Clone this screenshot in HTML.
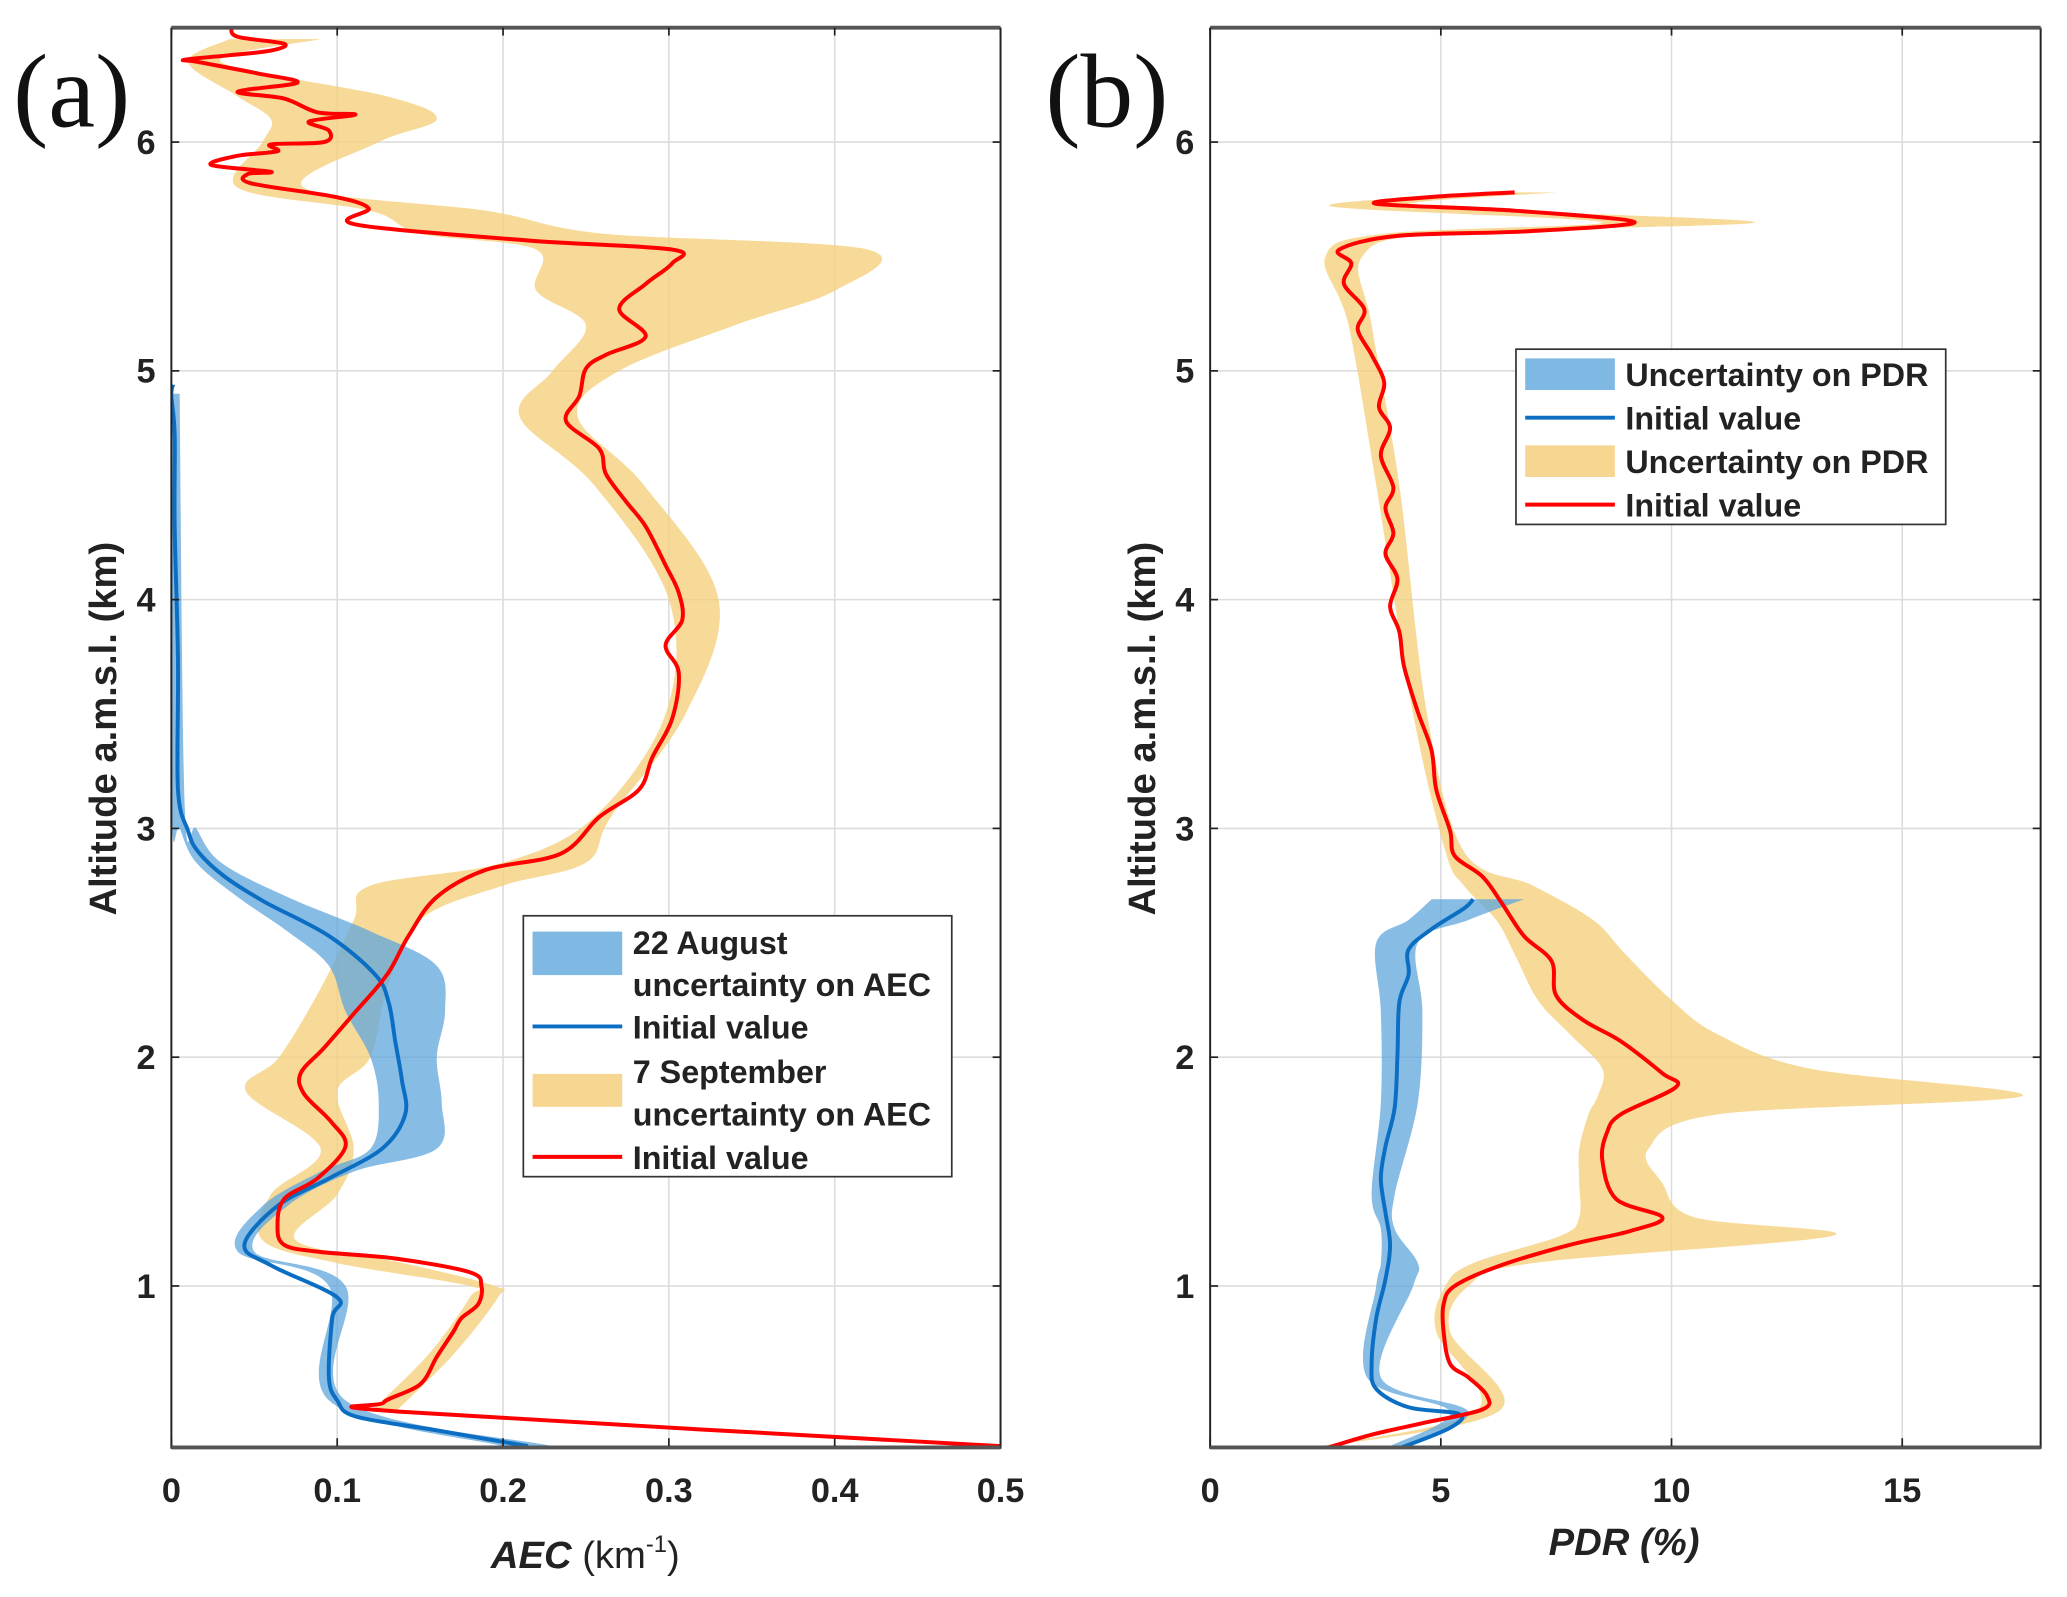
<!DOCTYPE html>
<html><head><meta charset="utf-8"><style>
html,body{margin:0;padding:0;background:#fff;}
svg{display:block;}
text{font-family:"Liberation Sans",Arial,sans-serif;font-weight:bold;fill:#222;}
</style></head><body>
<svg id="chart" width="2067" height="1597" viewBox="0 0 1568 1212" preserveAspectRatio="none" xmlns="http://www.w3.org/2000/svg">
<defs>
<clipPath id="clipA"><rect x="130" y="21" width="629" height="1077"/></clipPath>
<clipPath id="clipB"><rect x="918" y="21" width="630" height="1077"/></clipPath>
</defs>
<g id="panelA"></g>
<g id="panelB"></g>
</svg>
<script>
// ---- Panel (a) data ----
const aRedAlt=[0.3,0.45,0.49,0.57,0.69,0.8,0.86,0.92,1.0,1.06,1.12,1.15,1.18,1.26,1.38,1.47,1.61,1.72,1.84,1.93,2.04,2.19,2.36,2.53,2.7,2.82,2.89,3.05,3.17,3.31,3.48,3.68,3.8,3.91,4.03,4.15,4.32,4.43,4.55,4.66,4.78,4.89,5.01,5.07,5.15,5.27,5.38,5.47,5.53,5.57,5.64,5.71,5.76,5.82,5.86,5.87,5.9,5.94,5.96,5.99,6.0,6.05,6.09,6.12,6.13,6.19,6.22,6.26,6.3,6.35,6.36,6.38,6.4,6.43,6.46,6.5];
const aRedVal=[0.5,0.14,0.128,0.15,0.16,0.17,0.175,0.185,0.187,0.18,0.135,0.088,0.068,0.064,0.068,0.088,0.105,0.096,0.08,0.078,0.092,0.11,0.13,0.143,0.16,0.19,0.235,0.258,0.282,0.29,0.302,0.306,0.298,0.308,0.306,0.298,0.286,0.274,0.262,0.258,0.238,0.246,0.25,0.262,0.286,0.27,0.286,0.302,0.302,0.215,0.111,0.119,0.099,0.048,0.046,0.06,0.024,0.04,0.064,0.06,0.092,0.095,0.083,0.111,0.088,0.068,0.04,0.076,0.052,0.016,0.008,0.036,0.06,0.068,0.04,0.036];
const aRedBandAlt=[0.45,0.7,0.95,1.0,1.1,1.2,1.4,1.6,1.85,2.0,2.3,2.6,2.75,2.85,3.05,3.5,4.0,4.5,4.8,5.0,5.2,5.35,5.53,5.6,5.7,5.8,6.0,6.1,6.2,6.35,6.45];
const aRedBandLo=[0.12,0.155,0.18,0.18,0.1,0.055,0.06,0.09,0.045,0.065,0.09,0.11,0.12,0.2,0.255,0.298,0.3,0.255,0.21,0.23,0.25,0.22,0.22,0.15,0.12,0.04,0.055,0.06,0.04,0.01,0.035];
const aRedBandHi=[0.135,0.17,0.197,0.195,0.14,0.075,0.1,0.11,0.1,0.12,0.13,0.15,0.2,0.25,0.265,0.31,0.33,0.285,0.245,0.27,0.34,0.4,0.42,0.26,0.19,0.08,0.125,0.16,0.13,0.03,0.09];
const aBlueAlt=[0.3,0.37,0.43,0.5,0.6,0.86,0.95,1.09,1.18,1.35,1.47,1.6,1.75,1.9,2.07,2.24,2.36,2.53,2.68,2.79,2.9,2.99,3.17,3.74,4.32,4.72,4.89,4.94];
const aBlueVal=[0.215,0.159,0.111,0.1,0.095,0.097,0.1,0.06,0.044,0.064,0.095,0.127,0.141,0.139,0.135,0.131,0.123,0.095,0.056,0.032,0.016,0.01,0.004,0.004,0.002,0.002,0.0,0.001];
const aBlueBandAlt=[0.3,0.5,1.0,1.15,1.35,1.5,1.6,1.8,2.0,2.2,2.4,2.55,2.7,2.85,3.0,3.1,4.9];
const aBlueBandLo=[0.2,0.095,0.095,0.04,0.055,0.09,0.12,0.125,0.12,0.105,0.095,0.07,0.04,0.015,0.005,0.0,-0.002];
const aBlueBandHi=[0.23,0.105,0.105,0.05,0.07,0.11,0.16,0.163,0.16,0.165,0.16,0.12,0.07,0.03,0.015,0.008,0.005];
const aXTicks=[0,0.1,0.2,0.3,0.4,0.5];
const aXTickLabels=["0","0.1","0.2","0.3","0.4","0.5"];
// ---- Panel (b) data ----
const bRedAlt=[0.29,0.35,0.4,0.46,0.52,0.6,0.66,0.8,0.92,1.0,1.09,1.18,1.24,1.3,1.38,1.55,1.67,1.75,1.87,1.93,2.07,2.16,2.27,2.42,2.53,2.68,2.79,2.88,2.99,3.17,3.34,3.51,3.71,3.86,3.97,4.09,4.2,4.29,4.4,4.49,4.63,4.75,4.84,4.95,5.07,5.18,5.27,5.38,5.47,5.53,5.59,5.61,5.65,5.7,5.73,5.76,5.78];
const bRedVal=[2.5,3.5,4.6,5.9,6.0,5.6,5.2,5.06,5.06,5.3,6.3,7.8,9.1,9.8,8.8,8.5,8.6,8.9,10.1,9.8,8.9,8.1,7.5,7.4,6.8,6.3,5.9,5.3,5.2,4.9,4.8,4.5,4.2,4.1,3.9,4.06,3.8,3.97,3.8,3.97,3.7,3.9,3.66,3.77,3.5,3.2,3.34,2.9,3.06,2.8,4.06,6.9,9.2,6.6,3.6,4.8,6.6];
const bRedBandAlt=[0.3,0.46,0.8,1.0,1.1,1.22,1.3,1.45,1.6,1.75,1.83,1.95,2.1,2.25,2.45,2.6,2.75,2.9,3.5,4.5,5.2,5.5,5.6,5.65,5.72,5.78];
const bRedBandLo=[2.4,5.8,4.9,5.1,5.7,7.6,8.0,8.0,8.0,8.2,8.4,8.5,7.8,7.1,6.6,6.2,5.5,5.1,4.4,3.6,3.0,2.5,3.8,8.5,2.6,6.4];
const bRedBandHi=[2.6,6.3,5.2,5.6,7.0,13.5,10.5,9.8,9.5,11,17.6,13,11,10,9.0,8.3,7.0,5.5,4.7,4.1,3.5,3.3,5,11.8,4.4,7.5];
const bBlueAlt=[0.29,0.38,0.44,0.47,0.55,0.66,0.86,1.03,1.18,1.32,1.47,1.61,1.78,2.01,2.24,2.36,2.47,2.56,2.65,2.69];
const bBlueVal=[4.1,5.2,5.4,4.3,3.6,3.5,3.6,3.8,3.9,3.8,3.7,3.8,4.0,4.06,4.1,4.3,4.3,4.8,5.5,5.7];
const bBlueBandAlt=[0.3,0.45,0.6,1.0,1.1,1.25,1.4,1.8,2.2,2.5,2.6,2.69];
const bBlueBandLo=[3.9,5.2,3.4,3.6,3.7,3.7,3.5,3.7,3.7,3.6,4.3,4.8];
const bBlueBandHi=[4.3,5.6,3.7,4.4,4.5,4.0,4.0,4.5,4.6,4.5,5.6,6.8];
const bXTicks=[0,5,10,15];
const bXTickLabels=["0","5","10","15"];
const yTicks=[1,2,3,4,5,6];
const yTickLabels=["1","2","3","4","5","6"];

const NS="http://www.w3.org/2000/svg";
function mk(tag,attrs,parent,txt){const e=document.createElementNS(NS,tag);for(const k in attrs)e.setAttribute(k,attrs[k]);if(txt!==undefined)e.textContent=txt;parent.appendChild(e);return e;}
const Y0=1097.5,YT=21,AMIN=0.3,AMAX=6.5;
function yS(a){return Y0-(a-AMIN)/(AMAX-AMIN)*(Y0-YT);}
function smooth(P,start){
  let d=start?('M'+P[0][0].toFixed(1)+','+P[0][1].toFixed(1)):('L'+P[0][0].toFixed(1)+','+P[0][1].toFixed(1));
  for(let i=0;i<P.length-1;i++){
    const p0=P[Math.max(0,i-1)],p1=P[i],p2=P[i+1],p3=P[Math.min(P.length-1,i+2)];
    const c1=[p1[0]+(p2[0]-p0[0])/6,p1[1]+(p2[1]-p0[1])/6];
    const c2=[p2[0]-(p3[0]-p1[0])/6,p2[1]-(p3[1]-p1[1])/6];
    d+='C'+c1[0].toFixed(1)+','+c1[1].toFixed(1)+' '+c2[0].toFixed(1)+','+c2[1].toFixed(1)+' '+p2[0].toFixed(1)+','+p2[1].toFixed(1);
  }
  return d;
}
function drawPanel(g,L,R,xmax,clip,xt,xtl,bands,lines){
  const xS=v=>L+v/xmax*(R-L);
  xt.forEach(v=>{if(v>0){const l=mk('line',{x1:xS(v),x2:xS(v),y1:YT,y2:Y0,stroke:'#dcdcdc','stroke-width':1.2},g);}});
  yTicks.forEach(v=>{const l=mk('line',{x1:L,x2:R,y1:yS(v),y2:yS(v),stroke:'#dcdcdc','stroke-width':1.2},g);});
  const pg=mk('g',{'clip-path':'url(#'+clip+')'},g);
  bands.forEach(b=>{
    const lo=b.alt.map((a,i)=>[xS(b.lo[i]),yS(a)]);
    const hi=b.alt.map((a,i)=>[xS(b.hi[i]),yS(a)]).reverse();
    const p=mk('path',{d:smooth(lo,true)+smooth(hi,false)+'Z',fill:b.color,'fill-opacity':b.op},pg);
    
    
  });
  lines.forEach(s=>{
    const P=s.alt.map((a,i)=>[xS(s.val[i]),yS(a)]);
    const p=mk('path',{d:smooth(P,true),fill:'none',stroke:s.color,'stroke-width':3,'stroke-linejoin':'round'},pg);
    
    
  });
  const ax=mk('g',{},g);
  mk('line',{x1:L,x2:L,y1:YT,y2:Y0+2,stroke:'#222','stroke-width':1.5},ax);
  mk('line',{x1:R,x2:R,y1:YT,y2:Y0+2,stroke:'#222','stroke-width':1.5},ax);
  mk('line',{x1:L,x2:R,y1:Y0+1,y2:Y0+1,stroke:'#555','stroke-width':3},ax);
  mk('line',{x1:L,x2:R,y1:YT,y2:YT,stroke:'#555','stroke-width':3},ax);
  xt.forEach((v,i)=>{
    mk('line',{x1:xS(v),x2:xS(v),y1:Y0,y2:Y0-6,stroke:'#222','stroke-width':1.3},ax);
    mk('line',{x1:xS(v),x2:xS(v),y1:YT,y2:YT+6,stroke:'#222','stroke-width':1.3},ax);
    const t=mk('text',{x:xS(v),y:1140,'text-anchor':'middle','font-size':26},g,xtl[i]);
    
  });
  yTicks.forEach((v,i)=>{
    mk('line',{x1:L,x2:L+6,y1:yS(v),y2:yS(v),stroke:'#222','stroke-width':1.3},ax);
    mk('line',{x1:R,x2:R-6,y1:yS(v),y2:yS(v),stroke:'#222','stroke-width':1.3},ax);
    const t=mk('text',{x:L-12,y:yS(v)+9,'text-anchor':'end','font-size':26},g,yTickLabels[i]);
    
  });
}
const ORANGE='#f5cf7e',BLUE='#5fa6dc',RED='#ff0000',DBLUE='#0b6ec3';
const gA=document.getElementById('panelA'),gB=document.getElementById('panelB');
drawPanel(gA,130,759,0.5,'clipA',aXTicks,aXTickLabels,
 [{alt:aRedBandAlt,lo:aRedBandLo,hi:aRedBandHi,color:ORANGE,op:0.8,name:'sep-uncertainty-band'},
  {alt:aBlueBandAlt,lo:aBlueBandLo,hi:aBlueBandHi,color:BLUE,op:0.75,name:'aug-uncertainty-band'}],
 [{alt:aBlueAlt,val:aBlueVal,color:DBLUE,name:'aug-initial-line'},{alt:aRedAlt,val:aRedVal,color:RED,name:'sep-initial-line'}]);
drawPanel(gB,918,1548,18,'clipB',bXTicks,bXTickLabels,
 [{alt:bRedBandAlt,lo:bRedBandLo,hi:bRedBandHi,color:ORANGE,op:0.8,name:'pdr-uncertainty-band-red'},
  {alt:bBlueBandAlt,lo:bBlueBandLo,hi:bBlueBandHi,color:BLUE,op:0.75,name:'pdr-uncertainty-band-blue'}],
 [{alt:bBlueAlt,val:bBlueVal,color:DBLUE,name:'pdr-initial-line-blue'},{alt:bRedAlt,val:bRedVal,color:RED,name:'pdr-initial-line-red'}]);
</script>
<svg style="position:absolute;left:0;top:0" width="2067" height="1597" viewBox="0 0 1568 1212" preserveAspectRatio="none" xmlns="http://www.w3.org/2000/svg">
<text x="10" y="96" font-size="80" style="font-family:'Liberation Serif',serif;font-weight:normal;fill:#111">(a)</text>
<text x="793" y="96" font-size="80" style="font-family:'Liberation Serif',serif;font-weight:normal;fill:#111">(b)</text>
<text transform="translate(88,553) rotate(-90)" text-anchor="middle" font-size="29">Altitude a.m.s.l. (km)</text>
<text transform="translate(876,553) rotate(-90)" text-anchor="middle" font-size="29">Altitude a.m.s.l. (km)</text>
<text x="444" y="1190" text-anchor="middle" font-size="29"><tspan font-style="italic">AEC</tspan><tspan font-weight="normal"> (km</tspan><tspan font-weight="normal" font-size="18" dy="-12">-1</tspan><tspan font-weight="normal" dy="12">)</tspan></text>
<text x="1232" y="1180" text-anchor="middle" font-size="29" font-style="italic">PDR (%)</text>
<g>
<rect x="397" y="695" width="325" height="198" fill="#fff" stroke="#333" stroke-width="1.3"/>
<rect x="404" y="707" width="68" height="33" fill="#5fa6dc" fill-opacity="0.8"/>
<text x="480" y="724" font-size="24.5">22 August</text>
<text x="480" y="756" font-size="24.5">uncertainty on AEC</text>
<line x1="404" x2="472" y1="779" y2="779" stroke="#0b6ec3" stroke-width="3"/>
<text x="480" y="788" font-size="24.5">Initial value</text>
<rect x="404" y="815" width="68" height="25" fill="#f5cf7e" fill-opacity="0.85"/>
<text x="480" y="822" font-size="24.5">7 September</text>
<text x="480" y="854" font-size="24.5">uncertainty on AEC</text>
<line x1="404" x2="472" y1="878" y2="878" stroke="#ff0000" stroke-width="3"/>
<text x="480" y="887" font-size="24.5">Initial value</text>
</g>
<g>
<rect x="1150" y="265" width="326" height="133" fill="#fff" stroke="#333" stroke-width="1.3"/>
<rect x="1157" y="272" width="68" height="24" fill="#5fa6dc" fill-opacity="0.8"/>
<text x="1233" y="293" font-size="24.5">Uncertainty on PDR</text>
<line x1="1157" x2="1225" y1="317" y2="317" stroke="#0b6ec3" stroke-width="3"/>
<text x="1233" y="326" font-size="24.5">Initial value</text>
<rect x="1157" y="338" width="68" height="24" fill="#f5cf7e" fill-opacity="0.85"/>
<text x="1233" y="359" font-size="24.5">Uncertainty on PDR</text>
<line x1="1157" x2="1225" y1="383" y2="383" stroke="#ff0000" stroke-width="3"/>
<text x="1233" y="392" font-size="24.5">Initial value</text>
</g>
</svg>
</body></html>
